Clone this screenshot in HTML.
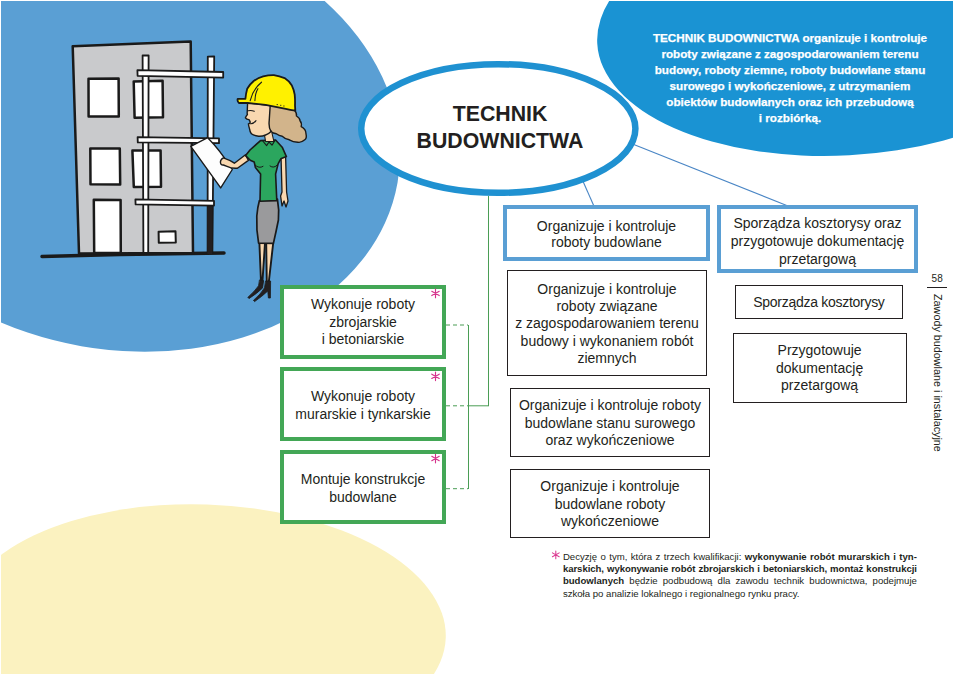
<!DOCTYPE html>
<html><head><meta charset="utf-8">
<style>
html,body{margin:0;padding:0;background:#fff;}
body{width:955px;height:674px;position:relative;overflow:hidden;font-family:"Liberation Sans",sans-serif;color:#231f20;}
svg.bg{position:absolute;left:0;top:0;}
.box{position:absolute;box-sizing:border-box;background:#fff;text-align:center;display:flex;align-items:center;justify-content:center;font-size:14px;line-height:17.4px;}
.g{border:4px solid #43a756;line-height:17.8px;padding-top:2px;}
.b{border:4px solid #5a9fd4;}
.k{border:1.3px solid #231f20;padding-top:2px;}
.j{text-align:justify;text-align-last:justify;white-space:nowrap;}
.ast{position:absolute;color:#e0218a;font-size:16px;}
</style></head><body>
<svg class="bg" width="955" height="674" viewBox="0 0 955 674">
  <defs>
    <clipPath id="pg"><rect x="1" y="1" width="952" height="673"/></clipPath>
  </defs>
  <g clip-path="url(#pg)">
    <ellipse cx="118.4" cy="133.8" rx="283.4" ry="215.6" transform="rotate(9.9 118.4 133.8)" fill="#5a9fd4"/>
    <ellipse cx="842.7" cy="30.3" rx="245.8" ry="125.1" transform="rotate(-3.08 842.7 30.3)" fill="#1a93d3"/>
    <ellipse cx="202.9" cy="629.6" rx="243" ry="125.1" transform="rotate(1.95 202.9 629.6)" fill="#fbf2c0"/>
  </g>

  <!-- illustration -->
  <g id="ill" stroke="#1a1a1a" stroke-linejoin="round" stroke-linecap="round">
    <!-- ground -->
    <path d="M42 256.5 L120 254.5 L224 253" stroke-width="3.5" fill="none"/>
    <!-- building body -->
    <path d="M72.7 46.3 L190.7 41.5 L193 253 L79 253.5 Z" fill="#c9cacc" stroke-width="2.5"/>
    <!-- windows -->
    <path d="M88.5 78.8 L118.6 78.6 L118.8 116.5 L88.6 116.5 Z" fill="#fff" stroke-width="2.5"/>
    <path d="M133.7 81.5 L162.6 80.8 L163 117.3 L134.6 117.8 Z" fill="#fff" stroke-width="2.5"/>
    <path d="M90.3 148.6 L119.8 148.6 L120.2 184.6 L90.5 184.2 Z" fill="#fff" stroke-width="2.5"/>
    <path d="M132.4 150.6 L160.6 150.6 L161 186.8 L133.8 187 Z" fill="#fff" stroke-width="2.5"/>
    <path d="M93.8 199.8 L120.6 200.1 L120.8 253 L94.2 253 Z" fill="#fff" stroke-width="2.5"/>
    <path d="M158.6 231.8 L175.5 231.3 L175.8 242.6 L158.8 242.8 Z" fill="#fff" stroke-width="2"/>
    <!-- scaffold verticals -->
    <path d="M142.6 55.5 L148.6 55.3 L148.2 253 L143.4 253 Z" fill="#fff" stroke-width="1.8"/>
    <path d="M207.8 56.6 L214.2 56.4 L212.4 253 L207.6 253 Z" fill="#fff" stroke-width="1.8"/>
    <path d="M207 204 L212.4 204 L212 254 L207.4 254 Z" fill="#231f20" stroke="none"/>
    <!-- horizontal bars -->
    <path d="M137.4 70.2 L223.2 72 L223.2 77.6 L137.6 75.8 Z" fill="#fff" stroke-width="1.8"/>
    <path d="M137.6 137.2 L219 138.4 L219 143.2 L137.8 142.4 Z" fill="#fff" stroke-width="1.8"/>
    <path d="M135.4 199.4 L214 200.8 L214 205.6 L135.6 204.4 Z" fill="#fff" stroke-width="1.8"/>
    <!-- paper -->
    <path d="M190.8 146.4 L207.7 137.7 Q220 150 232.3 169.5 L220.7 187.9 Z" fill="#fdfdfd" stroke-width="1.4"/>
    <!-- left arm (holding paper) -->
    <path d="M245.5 154.8 L234.4 163.2 Q229 159.6 223.4 157.8 Q220.6 159 220.4 162 Q220.6 165.4 223.4 165 L227 166.4 Q232 168.8 237.4 168.2 L248.4 160.4 Z" fill="#f9d8b0" stroke-width="1.4"/>
    <!-- right arm -->
    <path d="M281 156 L285.6 156.5 L286.6 192 L288 201 L286 207 L284 201 L282 206 L280.6 196 L282 192 Z" fill="#f9d8b0" stroke-width="1.3"/>
    <!-- legs -->
    <path d="M259.4 243 L265 243 L262.4 282 L261 282 Z" fill="#f9d8b0" stroke-width="1.9"/>
    <path d="M266.2 243 L273.2 243 L268.8 282 L266.8 282 Z" fill="#f9d8b0" stroke-width="1.9"/>
    <!-- shoes -->
    <path d="M259.8 280 L263.6 280.6 L262.6 288 Q257 293.5 249 298.6 L247.8 297.4 Q255 291 258.4 286 Z" fill="#231f20" stroke-width="0.8"/>
    <path d="M265.8 281 L270.6 281 L270.4 298 L268.4 298 L267.8 291 Q262 296.5 254.6 301.6 L253.4 300.4 Q261 294 264.4 288 Z" fill="#231f20" stroke-width="0.8"/>
    <!-- skirt -->
    <path d="M259.4 200.6 L277.4 199 Q279.4 210 278.4 220 Q276 232 273.4 243.4 L258.6 243.2 Q256.2 230 256.8 216 Q257.6 207 259.4 200.6 Z" fill="#9a9a9c" stroke-width="1.7"/>
    <!-- shirt -->
    <path d="M260.5 140.6 L275.6 140 L282.2 147.2 L286.4 156.6 L280.8 158.8 L278.2 163.6 L275.6 174 L276.8 200.6 L260 201.2 L260.6 174 L255.4 167.6 L254.2 162 L250.2 160.2 L245.6 155.6 L250 150 Z" fill="#2ba65e" stroke-width="1.6"/>
    <path d="M254.8 164.8 Q259 169 263 166.4 M270 166 Q274 169 277.6 164.6" fill="none" stroke-width="1"/>
    <path d="M262.8 141 L266.6 145.6 L269 142 L272 145.2 L275 140.4" fill="none" stroke-width="1.1"/>
    <!-- hair -->
    <path d="M267.4 104.2 L294.1 109.5 Q297 113 296.5 116 Q300 118 300 120.8 Q302 123 301.2 126.7 Q306 129 306 133.8 Q307 138 304.8 139.8 Q301 143 297.7 142.2 Q293 142 289.3 139.8 Q285 139 282.2 136.2 Q279 136 276.3 133.8 Q273 133 271 132 Q267.5 128 267 123.2 Q266.5 120 267 116 Z" fill="#d2b48b" stroke-width="1.4"/>
    <!-- neck -->
    <path d="M264.4 134.5 L265.6 141.5 L273.9 141.5 L271.5 131 Z" fill="#f9d8b0" stroke-width="1.1"/>
    <!-- face -->
    <path d="M247.6 102.8 L270.2 105.5 L269.2 120.8 Q268.5 128 271 131.5 Q268 134.5 265.6 135 Q262 136.5 258.5 136.2 Q253.5 135.5 251.4 133.8 Q249.8 131.5 249.6 129.1 Q248.6 126 248.4 123.8 Q250.4 123 250.2 122 Q249.6 120.4 249 119.6 Q246.6 119.6 245.4 117.8 Q246.4 115.6 247.4 114.5 Q247 113 247.2 112.5 Z" fill="#f9d8b0" stroke-width="1.4"/>
    <path d="M249.6 123.6 Q253 124.6 256 120.6" fill="none" stroke-width="1.1"/>
    <path d="M248.2 110.8 Q251 110 254.3 111.3" fill="none" stroke-width="1.1"/>
    <!-- helmet -->
    <path d="M237.7 98.8 L245.4 98.8 Q246 93 247.2 88.7 Q249.5 84.5 253.7 81 Q258 77.6 263.2 76.3 Q268.5 75 273.9 75.1 Q279.5 76 284.6 78.1 Q289 81 291.7 85.2 Q294 90 294.7 94.7 Q295.2 100 295 105.4 L295.3 110.7 Q290 110 285.8 108.9 L265.6 104.8 L247.8 103 L238.9 103 Q237 101 237.7 98.8 Z" fill="#fff100" stroke-width="1.8"/>
    <path d="M250.2 100.6 Q253 89 261.5 82.2 M254.9 100.6 Q255.2 93 257.9 88.7" fill="none" stroke-width="1.1"/>
    <path d="M277 104.6 L277.6 104.6 M280.4 105.3 L281 105.3 M283.6 106 L284.2 106" fill="none" stroke-width="0.8"/>
  </g>
  <!-- connectors -->
  <line x1="488.5" y1="196" x2="488.5" y2="406" stroke="#4a9d55" stroke-width="1"/>
  <line x1="468.5" y1="325" x2="468.5" y2="489" stroke="#4a9d55" stroke-width="1"/>
  <line x1="468" y1="405.8" x2="489" y2="405.8" stroke="#4a9d55" stroke-width="1"/>
  <line x1="446" y1="325" x2="468" y2="325" stroke="#4a9d55" stroke-width="1" stroke-dasharray="4 3"/>
  <line x1="446" y1="405.8" x2="468" y2="405.8" stroke="#4a9d55" stroke-width="1" stroke-dasharray="4 3"/>
  <line x1="446" y1="488.7" x2="468" y2="488.7" stroke="#4a9d55" stroke-width="1" stroke-dasharray="4 3"/>
  <line x1="578" y1="170" x2="593.9" y2="206" stroke="#4a86c5" stroke-width="1.1"/>
  <line x1="625" y1="141" x2="788" y2="206" stroke="#4a86c5" stroke-width="1.1"/>
  <!-- oval -->
  <ellipse cx="498.3" cy="128.5" rx="137.1" ry="64.3" fill="#fff" stroke="#1f91d1" stroke-width="6.5"/>
</svg>

<div class="box g" style="left:280px;top:284.5px;width:166px;height:74px;">Wykonuje roboty<br>zbrojarskie<br>i betoniarskie</div>
<div class="box g" style="left:280px;top:367.2px;width:166px;height:74px;padding-top:4px;">Wykonuje roboty<br>murarskie i tynkarskie</div>
<div class="box g" style="left:280px;top:450.2px;width:166px;height:74px;padding-top:4px;">Montuje konstrukcje<br>budowlane</div>

<div class="box b" style="left:503.3px;top:205px;width:206.4px;height:55.5px;line-height:16px;padding-top:3.2px;">Organizuje i kontroluje<br>roboty budowlane</div>
<div class="box b" style="left:717.2px;top:205.4px;width:200.6px;height:68px;line-height:18px;padding-top:2.7px;">Sporządza kosztorysy oraz<br>przygotowuje dokumentację<br>przetargową</div>

<div class="box k" style="left:507px;top:270.2px;width:200px;height:106px;">Organizuje i kontroluje<br>roboty związane<br>z zagospodarowaniem terenu<br>budowy i wykonaniem robót<br>ziemnych</div>
<div class="box k" style="left:510.3px;top:387.5px;width:199.4px;height:69.6px;">Organizuje i kontroluje roboty<br>budowlane stanu surowego<br>oraz wykończeniowe</div>
<div class="box k" style="left:510.3px;top:468.5px;width:199.4px;height:69.7px;">Organizuje i kontroluje<br>budowlane roboty<br>wykończeniowe</div>

<div class="box k" style="left:735.2px;top:285.2px;width:167.5px;height:34px;letter-spacing:-0.28px;">Sporządza kosztorysy</div>
<div class="box k" style="left:732.6px;top:332.6px;width:174px;height:70px;">Przygotowuje<br>dokumentację<br>przetargową</div>


<div class="otitle" style="position:absolute;left:400px;top:101.2px;width:200px;text-align:center;font-weight:bold;font-size:21.3px;line-height:26.8px;color:#231f20;">TECHNIK<br>BUDOWNICTWA</div>
<div style="position:absolute;left:640px;top:30.4px;width:300px;text-align:center;font-weight:bold;font-size:11.7px;line-height:15.86px;color:#fff;-webkit-text-stroke:0.25px #fff;">TECHNIK BUDOWNICTWA organizuje i kontroluje<br>roboty związane z zagospodarowaniem terenu<br>budowy, roboty ziemne, roboty budowlane stanu<br>surowego i wykończeniowe, z utrzymaniem<br>obiektów budowlanych oraz ich przebudową<br>i rozbiórką.</div>


<div class="foot" style="position:absolute;left:562.9px;top:550.5px;width:354px;font-size:9.6px;line-height:12.45px;color:#231f20;">
<div class="j">Decyzję o tym, która z trzech kwalifikacji: <b>wykonywanie robót murarskich i tyn-</b></div>
<div class="j" style="letter-spacing:-0.06px"><b>karskich, wykonywanie robót zbrojarskich i betoniarskich, montaż konstrukcji</b></div>
<div class="j"><b>budowlanych</b> będzie podbudową dla zawodu technik budownictwa, podejmuje</div>
<div>szkoła po analizie lokalnego i regionalnego rynku pracy.</div>
</div>


<div style="position:absolute;left:931.6px;top:274px;font-size:10px;line-height:10px;color:#231f20;">58</div>
<div style="position:absolute;left:926.8px;top:286.9px;width:20px;height:1px;background:#231f20;"></div>
<div style="position:absolute;left:942.5px;top:293.5px;transform-origin:0 0;transform:rotate(90deg);white-space:nowrap;font-size:10.8px;line-height:10.8px;color:#231f20;">Zawody budowlane i instalacyjne</div>
<svg style="position:absolute;left:0;top:0;" width="955" height="674"><path d="M435.50 289.10L435.50 297.70M431.78 291.25L439.22 295.55M439.22 291.25L431.78 295.55" stroke="#d6338c" stroke-width="1.15" stroke-linecap="round"/><path d="M435.50 372.00L435.50 380.60M431.78 374.15L439.22 378.45M439.22 374.15L431.78 378.45" stroke="#d6338c" stroke-width="1.15" stroke-linecap="round"/><path d="M435.50 454.20L435.50 462.80M431.78 456.35L439.22 460.65M439.22 456.35L431.78 460.65" stroke="#d6338c" stroke-width="1.15" stroke-linecap="round"/><path d="M555.80 550.90L555.80 558.70M552.42 552.85L559.18 556.75M559.18 552.85L552.42 556.75" stroke="#db3c92" stroke-width="1.05" stroke-linecap="round"/></svg>
</body></html>
